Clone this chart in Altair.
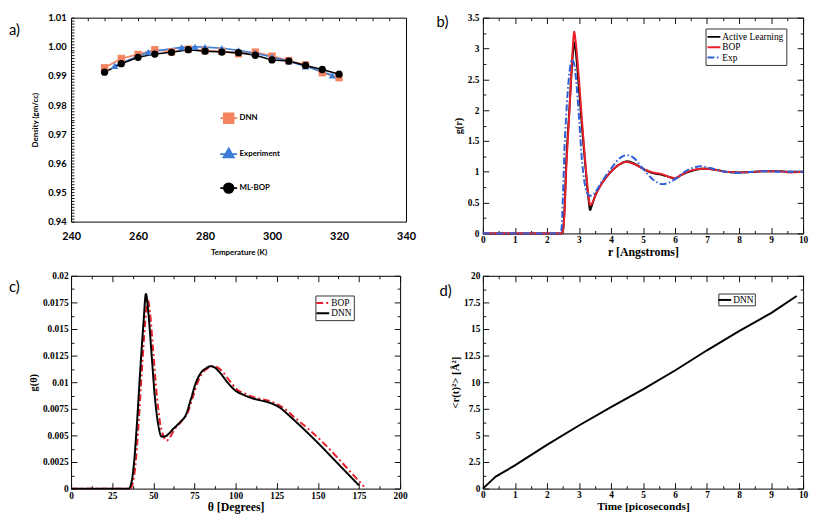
import altair as alt
import pandas as pd

SERIF = "Liberation Serif"
SANS = "Lato"

# ---------------- panel a : density vs temperature ----------------
a_T = [250, 255, 260, 265, 270, 275, 280, 285, 290, 295, 300, 305, 310, 315, 320]
a_dnn = [0.9928, 0.9960, 0.9974, 0.9990, 0.9983, 0.9992, 0.9987, 0.9985, 0.9976, 0.9982, 0.9968, 0.9953, 0.9938, 0.9911, 0.9894]
a_mlbop = [0.9913, 0.9942, 0.9964, 0.9975, 0.9981, 0.9990, 0.9985, 0.9982, 0.9980, 0.9971, 0.9955, 0.9951, 0.9936, 0.9922, 0.9906]
a_exp_T = [253, 263, 273, 277, 280, 285, 290, 295, 300, 305, 310, 318]
a_exp = [0.9935, 0.9982, 0.9998, 1.0000, 0.9999, 0.9995, 0.9988, 0.9978, 0.9965, 0.9950, 0.9933, 0.9902]
a_names = ["DNN", "Experiment", "ML-BOP"]
a_colors = ["#f4845f", "#3d7dd8", "#000000"]
a_shapes = ["square", "triangle-up", "circle"]
a_legend_shapes = ["M-1.7,0H1.7M-1,-1H1V1H-1Z",
                   "M-1.7,0.1H1.7M0,-1.1L1.1,0.8H-1.1Z",
                   "M-1.7,0H1.7M1,0A1,1,0,1,1,-1,0A1,1,0,1,1,1,0Z"]
a_xminor = [240 + 5 * i for i in range(21)]              # labelled every 20
a_yminor = [round(0.94 + 0.001 * i, 3) for i in range(71)]  # labelled every 0.01

# ---------------- panel b : g(r) ----------------
b_names = ["Active Learning", "BOP", "Exp"]
b_r = [0, 2.4, 2.45, 2.5, 2.55, 2.6, 2.7, 2.8, 2.85, 2.9, 3.0, 3.1, 3.2, 3.3, 3.35, 3.4, 3.5, 3.7, 4.0, 4.3,
       4.5, 4.7, 5.0, 5.3, 5.6, 5.8, 6.0, 6.2, 6.5, 6.9, 7.3, 7.6, 8.0, 8.5, 8.8, 9.2, 9.6, 10]
b_al = [0, 0, 0, 0.05, 0.4, 1.1, 2.0, 2.85, 3.1, 2.95, 2.35, 1.7, 1.1, 0.55, 0.38, 0.45, 0.6, 0.8, 1.0, 1.13,
        1.17, 1.14, 1.05, 0.98, 0.95, 0.92, 0.89, 0.95, 1.01, 1.05, 1.03, 1.0, 0.99, 1.0, 1.01, 1.01, 1.0, 1.0]
b_bop = [0, 0, 0, 0.04, 0.35, 1.0, 1.95, 2.95, 3.27, 3.1, 2.5, 1.8, 1.15, 0.6, 0.46, 0.48, 0.6, 0.8, 1.0, 1.13,
         1.16, 1.13, 1.05, 0.99, 0.96, 0.92, 0.9, 0.95, 1.02, 1.05, 1.03, 1.0, 0.99, 1.0, 1.01, 1.01, 0.99, 1.0]
b_r_exp = [0, 2.4, 2.45, 2.5, 2.55, 2.6, 2.7, 2.78, 2.85, 2.9, 3.0, 3.1, 3.2, 3.3, 3.4, 3.5, 3.7, 4.0, 4.3, 4.5,
           4.7, 5.0, 5.3, 5.6, 5.8, 6.0, 6.3, 6.6, 6.8, 7.1, 7.5, 7.9, 8.4, 8.8, 9.3, 10]
b_exp = [0, 0, 0.05, 0.6, 1.4, 1.9, 2.6, 2.82, 2.75, 2.55, 1.9, 1.15, 0.75, 0.62, 0.61, 0.66, 0.83, 1.05, 1.23, 1.27,
         1.23, 1.05, 0.88, 0.8, 0.82, 0.88, 1.0, 1.07, 1.09, 1.06, 1.01, 0.98, 1.0, 1.01, 1.0, 1.0]
b_xticks = [0, 1, 2, 3, 4, 5, 6, 7, 8, 9, 10]
b_yticks = [0, 0.5, 1, 1.5, 2, 2.5, 3, 3.5]

# ---------------- panel c : g(theta) ----------------
c_names = ["BOP", "DNN"]
c_th_dnn = [0, 35, 36, 37, 38, 40, 42, 44, 45.5, 47, 49, 51, 53, 55, 57, 59, 62, 66, 70, 73, 76, 79, 82, 85, 88,
            91, 95, 100, 105, 110, 115, 122, 127, 133, 140, 150, 160, 170, 175]
c_dnn = [0, 0, 0.0002, 0.0008, 0.002, 0.006, 0.011, 0.0155, 0.0183, 0.0165, 0.0125, 0.0085, 0.006, 0.0049, 0.0049,
         0.0051, 0.0056, 0.0062, 0.007, 0.0085, 0.01, 0.0109, 0.0113, 0.0115, 0.0113, 0.0108, 0.01, 0.0092, 0.0088,
         0.0085, 0.0083, 0.008, 0.0076, 0.0068, 0.0058, 0.0043, 0.0027, 0.0011, 0.0003]
c_th_bop = [0, 36, 37.5, 39, 41, 43, 45, 46.5, 48, 50, 52, 54, 56, 58, 60, 63, 67, 71, 74, 77, 80, 83, 86, 89, 92,
            96, 101, 106, 111, 116, 123, 129, 135, 142, 152, 162, 172, 178]
c_bop = [0, 0, 0.0005, 0.002, 0.006, 0.011, 0.0155, 0.0178, 0.0165, 0.0128, 0.009, 0.0063, 0.005, 0.0045, 0.0048,
         0.0056, 0.0063, 0.0072, 0.0086, 0.01, 0.0109, 0.0113, 0.0115, 0.0114, 0.011, 0.0102, 0.0093, 0.0089, 0.0086,
         0.0084, 0.0081, 0.0076, 0.0068, 0.0059, 0.0045, 0.0029, 0.0012, 0.0002]
c_xticks = [0, 25, 50, 75, 100, 125, 150, 175, 200]
c_yticks = [0, 0.0025, 0.005, 0.0075, 0.01, 0.0125, 0.015, 0.0175, 0.02]

# ---------------- panel d : MSD ----------------
d_t = [0, 0.4, 1, 2, 3, 4, 5, 6, 7, 8, 9, 9.8]
d_msd = [0, 1.13, 2.18, 4.11, 5.93, 7.66, 9.33, 11.1, 13.0, 14.8, 16.5, 18.1]
d_xticks = [0, 1, 2, 3, 4, 5, 6, 7, 8, 9, 10]
d_yticks = [0, 2.5, 5, 7.5, 10, 12.5, 15, 17.5, 20]

panel_labels = ["a)", "b)", "c)", "d)"]


def with_mids(vals):
    m = [(vals[i] + vals[i + 1]) / 2 for i in range(len(vals) - 1)]
    return sorted(vals + m)


def major_test(step):
    return f"abs(datum.value / {step} - round(datum.value / {step})) < 1e-6"


def label_layer(text, x, y):
    return alt.Chart(pd.DataFrame({"t": [text]})).mark_text(
        align="left", baseline="middle", font=SANS, fontSize=15, color="black"
    ).encode(text="t:N", x=alt.value(x), y=alt.value(y))


def serif_axis(title, values, step, length, fmt, **kw):
    # inside ticks on both sides of the frame are drawn as dashed grid lines
    test = major_test(step)
    d = dict(title=title, values=with_mids(values), format=fmt, ticks=False, domain=False,
             grid=True, gridColor="#111111", gridOpacity=1, gridWidth=1,
             gridDash={"condition": {"test": test, "value": [6, length - 12]}, "value": [3, length - 6]},
             labelExpr=f"{test} ? datum.label : ''",
             labelFont=SERIF, labelFontWeight="bold", labelFontSize=9.5, labelColor="black",
             titleFont=SERIF, titleFontWeight="bold", titleColor="black",
             labelOverlap=False, labelFlush=False)
    d.update(kw)
    return alt.Axis(**d)


def serif_legend(x, y, pad):
    return alt.Legend(title=None, orient="none", legendX=x, legendY=y, padding=pad,
                      strokeColor="#333333", fillColor="white", symbolType="M-1.45,0H1.45",
                      symbolSize=81, symbolStrokeWidth=2, symbolOffset=0,
                      labelFont=SERIF, labelFontSize=9.5, labelColor="black", labelOffset=3,
                      rowPadding=0.5)


# ================= panel a =================
aW, aH = 340, 207
a_df = pd.DataFrame({"T": a_T + a_exp_T + a_T,
                     "d": a_dnn + a_exp + a_mlbop,
                     "s": ["DNN"] * len(a_T) + ["Experiment"] * len(a_exp_T) + ["ML-BOP"] * len(a_T)})
a_xs = alt.Scale(domain=[240, 340], nice=False)
a_ys = alt.Scale(domain=[0.94, 1.01], nice=False, zero=False)
a_cs = alt.Scale(domain=a_names, range=a_colors)
a_xaxis = alt.Axis(title="Temperature (K)", values=a_xminor, format="d", ticks=False, domain=False,
                   grid=True, gridColor="#111111", gridOpacity=1, gridWidth=1, gridDash=[3, 1000],
                   labelExpr=f"{major_test(20)} ? datum.label : ''",
                   labelFont=SANS, labelFontWeight="bold", labelFontSize=11, labelColor="black",
                   labelPadding=9, labelFlush=False, labelOverlap=False,
                   titleFont=SANS, titleFontWeight="bold", titleFontSize=8, titleColor="black", titlePadding=7)
a_yaxis = alt.Axis(title="Density (gm/cc)", values=a_yminor, format=".2f", ticks=False, domain=False,
                   grid=True, gridColor="#111111", gridOpacity=1, gridWidth=1, gridDash=[3, 1000],
                   labelExpr=f"{major_test(0.01)} ? datum.label : ''",
                   labelFont=SANS, labelFontWeight="bold", labelFontSize=9.5, labelColor="black",
                   labelPadding=5, labelOverlap=False,
                   titleFont=SANS, titleFontWeight="bold", titleFontSize=8, titleColor="black", titlePadding=8)
a_lines = alt.Chart(a_df).mark_line().encode(
    x=alt.X("T:Q", scale=a_xs, axis=a_xaxis),
    y=alt.Y("d:Q", scale=a_ys, axis=a_yaxis),
    color=alt.Color("s:N", scale=a_cs, legend=None),
    strokeWidth=alt.StrokeWidth("s:N", scale=alt.Scale(domain=a_names, range=[1.6, 1.6, 2.6]), legend=None),
)
a_points = alt.Chart(a_df).mark_point(filled=True, opacity=1).encode(
    x=alt.X("T:Q", scale=a_xs, axis=a_xaxis),
    y=alt.Y("d:Q", scale=a_ys, axis=a_yaxis),
    color=alt.Color("s:N", scale=a_cs, legend=None),
    shape=alt.Shape("s:N", scale=alt.Scale(domain=a_names, range=a_shapes), legend=None),
    size=alt.Size("s:N", scale=alt.Scale(domain=a_names, range=[55, 55, 85]), legend=None),
)
a_leg_def = alt.Legend(title=None, orient="none", legendX=154, legendY=96, padding=0,
                       labelFont=SANS, labelFontWeight="bold", labelFontSize=8, labelColor="black",
                       labelOffset=5, rowPadding=18, symbolStrokeWidth=1.6)
a_legend = alt.Chart(a_df).transform_filter("false").mark_point(filled=True, size=64, strokeWidth=1.6, opacity=1).encode(
    fill=alt.Fill("s:N", scale=alt.Scale(domain=a_names, range=a_colors), legend=a_leg_def),
    stroke=alt.Stroke("s:N", scale=alt.Scale(domain=a_names, range=a_colors), legend=a_leg_def),
    shape=alt.Shape("s:N", scale=alt.Scale(domain=a_names, range=a_legend_shapes), legend=a_leg_def),
)
pa = alt.layer(
    a_lines, a_points, a_legend,
    label_layer(panel_labels[0], -63, 13),
).resolve_scale(shape="independent", size="independent", fill="independent", stroke="independent"
).properties(width=aW, height=aH)

# ================= panel b =================
bW, bH = 325, 219
b_df = pd.DataFrame({"r": b_r + b_r + b_r_exp,
                     "g": b_al + b_bop + b_exp,
                     "s": [b_names[0]] * len(b_r) + [b_names[1]] * len(b_r) + [b_names[2]] * len(b_r_exp)})
b_xs = alt.Scale(domain=[0, 10], nice=False)
b_ys = alt.Scale(domain=[0, 3.5], nice=False)
b_xaxis = serif_axis("r [Angstroms]", b_xticks, 1, bH, ".1~f", labelPadding=1.5, titleFontSize=12, titlePadding=2)
b_yaxis = serif_axis("g(r)", b_yticks, 0.5, bW, ".2~f", labelPadding=4, titleFontSize=10.5, titlePadding=4)
b_leg = serif_legend(226, 11, 3)
b_lines = alt.Chart(b_df).mark_line(strokeWidth=2, interpolate="monotone").encode(
    x=alt.X("r:Q", scale=b_xs, axis=b_xaxis),
    y=alt.Y("g:Q", scale=b_ys, axis=b_yaxis),
    color=alt.Color("s:N", scale=alt.Scale(domain=b_names, range=["#000000", "#e8202a", "#2f5fd8"]), legend=b_leg),
    strokeDash=alt.StrokeDash("s:N", scale=alt.Scale(domain=b_names, range=[[1, 0], [1, 0], [7, 2.5, 1.5, 2.5]]),
                              legend=b_leg),
)
pb = alt.layer(b_lines, label_layer(panel_labels[1], -47, 4)).properties(width=bW, height=bH)

# ================= panel c =================
cW, cH = 334, 216
c_df = pd.DataFrame({"th": c_th_bop + c_th_dnn,
                     "g": c_bop + c_dnn,
                     "s": ["BOP"] * len(c_th_bop) + ["DNN"] * len(c_th_dnn)})
c_xs = alt.Scale(domain=[0, 200], nice=False)
c_ys = alt.Scale(domain=[0, 0.02], nice=False)
c_xaxis = serif_axis("θ [Degrees]", c_xticks, 25, cH, ".1~f", labelPadding=2, titleFontSize=12, titlePadding=2)
c_yaxis = serif_axis("g(θ)", c_yticks, 0.0025, cW, ".5~f", labelPadding=3, titleFontSize=10.5, titlePadding=4)
c_leg = serif_legend(248, 20, 2)
c_lines = alt.Chart(c_df).mark_line(strokeWidth=2, interpolate="monotone").encode(
    x=alt.X("th:Q", scale=c_xs, axis=c_xaxis),
    y=alt.Y("g:Q", scale=c_ys, axis=c_yaxis),
    color=alt.Color("s:N", scale=alt.Scale(domain=c_names, range=["#e8202a", "#000000"]), legend=c_leg),
    strokeDash=alt.StrokeDash("s:N", scale=alt.Scale(domain=c_names, range=[[7, 3, 2, 3], [1, 0]]), legend=c_leg),
)
pc = alt.layer(c_lines, label_layer(panel_labels[2], -63, 11)).properties(width=cW, height=cH)

# ================= panel d =================
dW, dH = 325, 216
d_df = pd.DataFrame({"t": d_t, "m": d_msd, "s": ["DNN"] * len(d_t)})
d_xs = alt.Scale(domain=[0, 10], nice=False)
d_ys = alt.Scale(domain=[0, 20], nice=False)
d_xaxis = serif_axis("Time [picoseconds]", d_xticks, 1, dH, ".1~f", labelPadding=1.5, titleFontSize=11.5, titlePadding=1)
d_yaxis = serif_axis("<r(t)²> [Å²]", d_yticks, 2.5, dW, ".2~f", labelPadding=3, titleFontSize=11, titlePadding=3)
d_leg = serif_legend(239, 18, 1)
d_lines = alt.Chart(d_df).mark_line(strokeWidth=2).encode(
    x=alt.X("t:Q", scale=d_xs, axis=d_xaxis),
    y=alt.Y("m:Q", scale=d_ys, axis=d_yaxis),
    color=alt.Color("s:N", scale=alt.Scale(domain=["DNN"], range=["#000000"]), legend=d_leg),
)
pd_ = alt.layer(d_lines, label_layer(panel_labels[3], -44, 15)).properties(width=dW, height=dH)

chart = alt.concat(
    pa, pb, pc, pd_, columns=2, spacing={"row": 43, "column": 78}, bounds="flush"
).resolve_scale(
    color="independent", strokeDash="independent", shape="independent",
    fill="independent", stroke="independent", size="independent", strokeWidth="independent"
).properties(padding=0).configure_view(stroke="black", strokeWidth=1)

chart.save("out.html", embed_options={"renderer": "svg", "actions": False})
